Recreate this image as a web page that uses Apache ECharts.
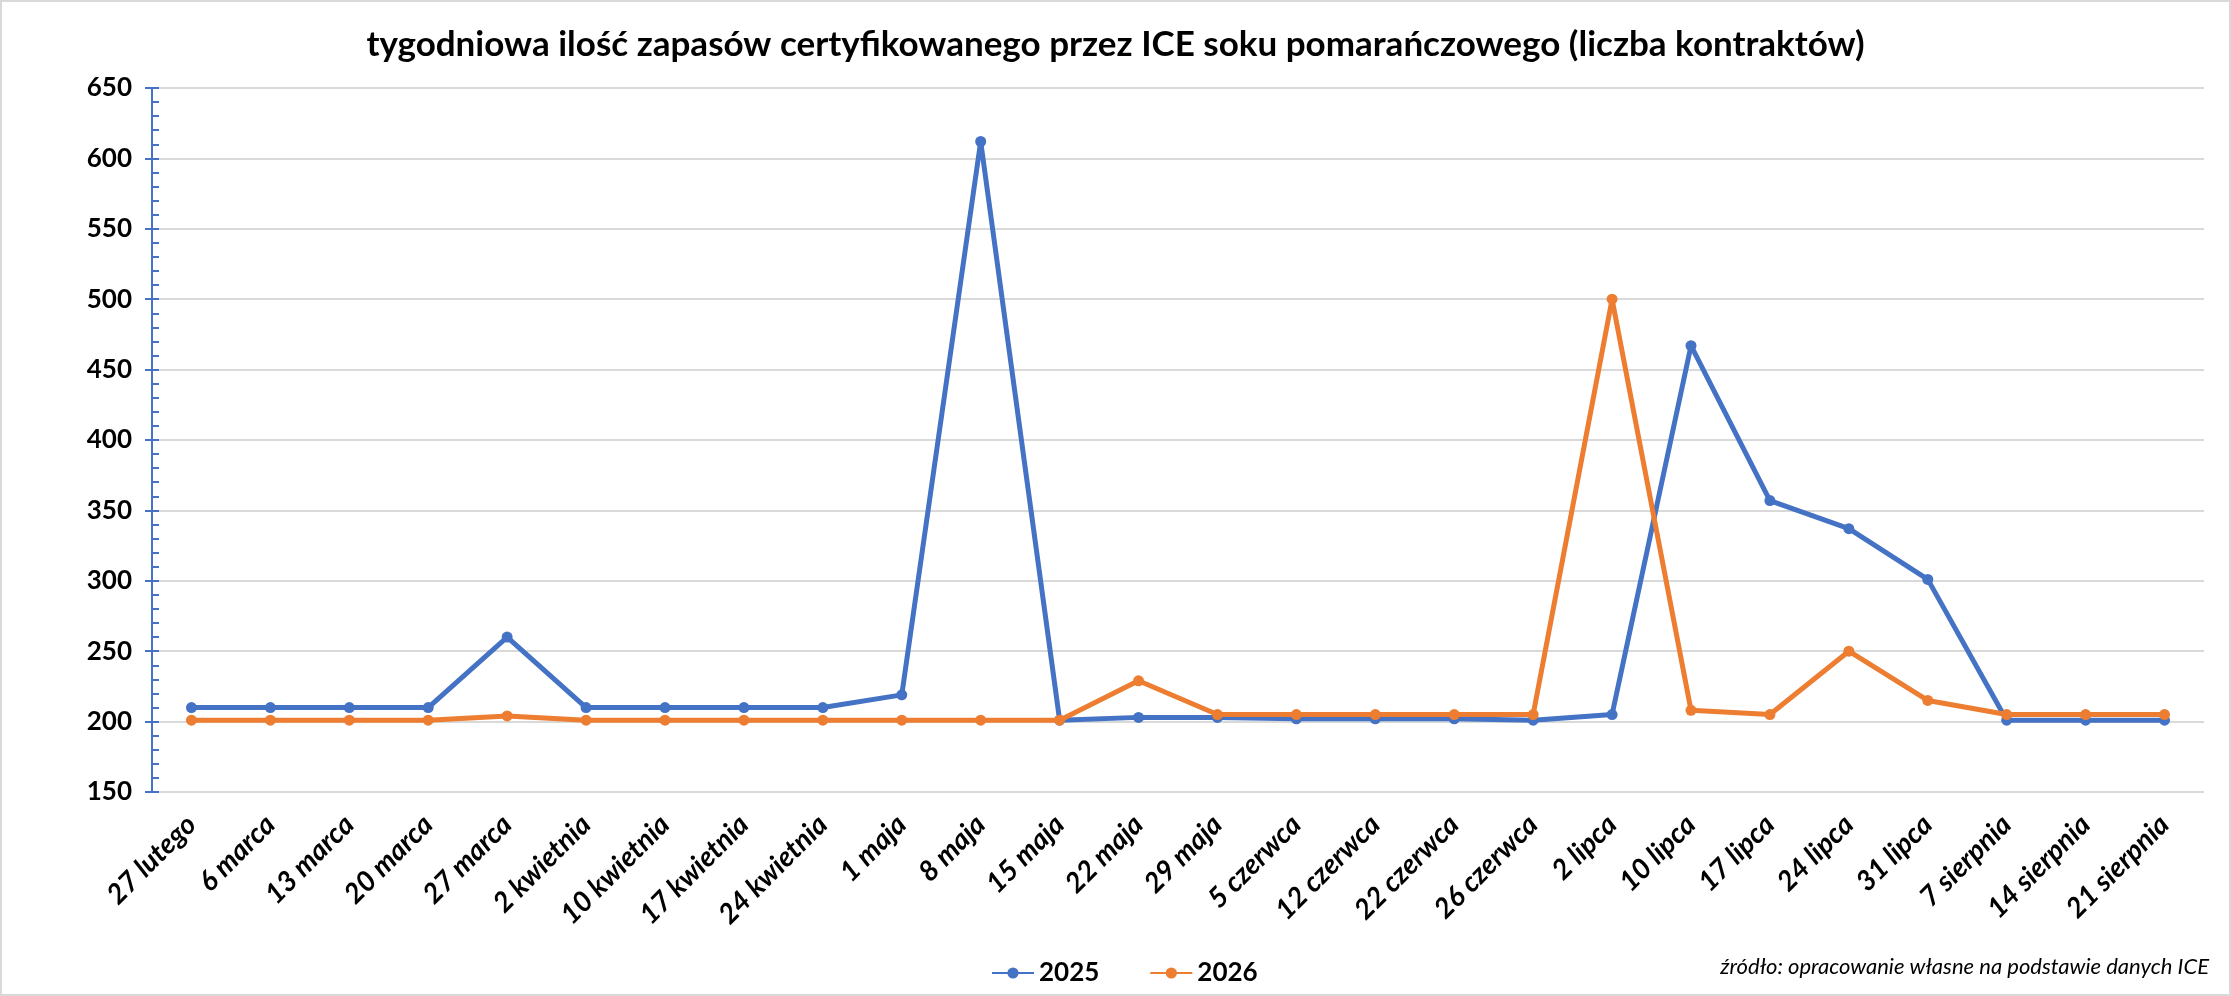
<!DOCTYPE html>
<html><head><meta charset="utf-8">
<script src="https://cdn.jsdelivr.net/npm/echarts@6/dist/echarts.min.js"></script>
<style>html,body{margin:0;padding:0;background:#fff}#c{width:2231px;height:996px}</style>
</head><body><div id="c"></div>
<script>
const categories = ['27 lutego','6 marca','13 marca','20 marca','27 marca','2 kwietnia','10 kwietnia','17 kwietnia','24 kwietnia','1 maja','8 maja','15 maja','22 maja','29 maja','5 czerwca','12 czerwca','22 czerwca','26 czerwca','2 lipca','10 lipca','17 lipca','24 lipca','31 lipca','7 sierpnia','14 sierpnia','21 sierpnia'];
const s2025 = [210,210,210,210,260,210,210,210,210,219,612,201,203,203,202,202,202,201,205,467,357,337,301,201,201,201];
const s2026 = [201,201,201,201,204,201,201,201,201,201,201,201,229,205,205,205,205,205,500,208,205,250,215,205,205,205];
const yTicks = [150,200,250,300,350,400,450,500,550,600,650];

const chart = echarts.init(document.getElementById('c'));
const FONT = 'Lato';
chart.setOption({
  animation:false,
  backgroundColor:'#fff',
  title:{text:'tygodniowa ilość zapasów certyfikowanego przez ICE soku pomarańczowego (liczba kontraktów)',left:'center',top:22,
    textStyle:{fontFamily:FONT,fontWeight:'bold',fontSize:35,color:'#000'}},
  grid:{left:152,right:27,top:88,bottom:204,containLabel:false},
  legend:{left:986,top:955,itemWidth:42,itemHeight:14,itemGap:50,
    textStyle:{fontFamily:FONT,fontWeight:'bold',fontSize:26,color:'#000'},
    data:['2025','2026']},
  xAxis:{type:'category',data:categories,boundaryGap:true,
    axisLine:{show:false},axisTick:{show:false},
    axisLabel:{rotate:45,margin:28,interval:0,fontFamily:FONT,fontWeight:'bold',fontStyle:'italic',fontSize:28,color:'#000'}},
  yAxis:[{type:'value',min:yTicks[0],max:yTicks[yTicks.length-1],interval:50,
    axisLine:{show:true,lineStyle:{color:'#4472C4',width:2}},
    axisTick:{show:true,inside:false,length:7,lineStyle:{color:'#4472C4',width:2}},
    axisLabel:{margin:20,fontFamily:FONT,fontWeight:'bold',fontSize:26,color:'#000'},
    splitLine:{show:true,lineStyle:{color:'#d9d9d9',width:2}}},
   {type:'value',position:'left',min:yTicks[0],max:yTicks[yTicks.length-1],interval:10,
    axisLine:{show:false},
    axisTick:{show:true,inside:true,length:7,lineStyle:{color:'#4472C4',width:2}},
    axisLabel:{show:false},splitLine:{show:false}}],
  series:[
    {name:'2025',type:'line',data:s2025,symbol:'circle',symbolSize:11,
      lineStyle:{color:'#4472C4',width:5},itemStyle:{color:'#4472C4'},z:2},
    {name:'2026',type:'line',data:s2026,symbol:'circle',symbolSize:11,
      lineStyle:{color:'#ED7D31',width:5},itemStyle:{color:'#ED7D31'},z:3}
  ],
  graphic:[
    {type:'rect',shape:{x:1,y:1,width:2229,height:994},style:{fill:'none',stroke:'#d9d9d9',lineWidth:2},silent:true},
    {type:'text',right:22,top:956,style:{text:'źródło: opracowanie własne na podstawie danych ICE',font:'italic 22px Lato',fill:'#000'}}
  ]
});
</script></body></html>
